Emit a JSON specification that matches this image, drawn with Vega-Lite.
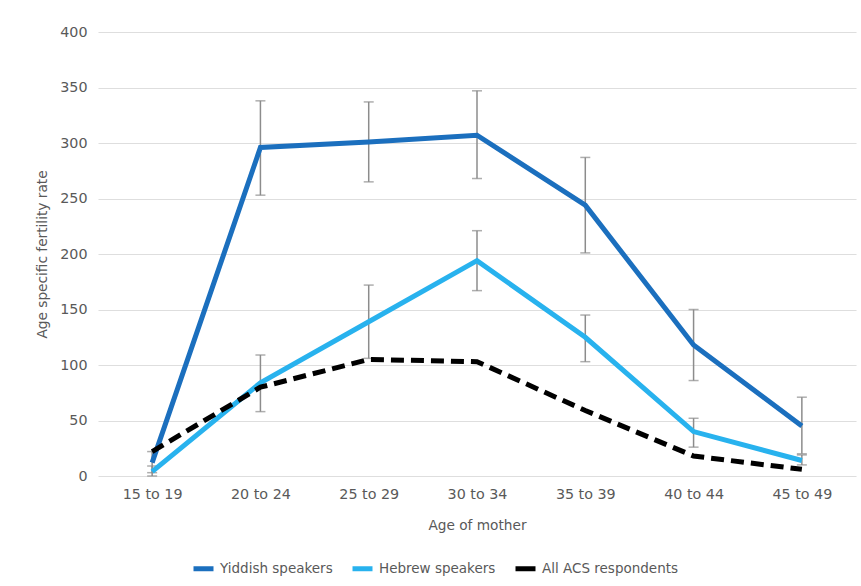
{
  "$schema": "https://vega.github.io/schema/vega-lite/v6.json",
  "width": 758,
  "height": 444,
  "autosize": {"type": "none"},
  "padding": {"left": 98, "top": 32, "right": 5, "bottom": 110},
  "background": "white",
  "config": {
    "view": {"stroke": null},
    "font": "DejaVu Sans",
    "axis": {"labelColor": "#595959", "titleColor": "#595959", "labelFontSize": 14.3, "titleFontSize": 13.7, "titleFontWeight": "normal", "domain": false, "ticks": false, "gridColor": "#dedede", "gridWidth": 1.2}
  },
  "data": {"values": [
    {"age": "15 to 19", "series": "Yiddish speakers", "rate": 12, "lo": 3, "hi": 22},
    {"age": "20 to 24", "series": "Yiddish speakers", "rate": 296, "lo": 253, "hi": 338},
    {"age": "25 to 29", "series": "Yiddish speakers", "rate": 301, "lo": 265, "hi": 337},
    {"age": "30 to 34", "series": "Yiddish speakers", "rate": 307, "lo": 268, "hi": 347},
    {"age": "35 to 39", "series": "Yiddish speakers", "rate": 244, "lo": 201, "hi": 287},
    {"age": "40 to 44", "series": "Yiddish speakers", "rate": 118, "lo": 86, "hi": 150},
    {"age": "45 to 49", "series": "Yiddish speakers", "rate": 45, "lo": 20, "hi": 71},
    {"age": "15 to 19", "series": "Hebrew speakers", "rate": 4, "lo": 0, "hi": 9},
    {"age": "20 to 24", "series": "Hebrew speakers", "rate": 84, "lo": 58, "hi": 109},
    {"age": "25 to 29", "series": "Hebrew speakers", "rate": 139, "lo": 106, "hi": 172},
    {"age": "30 to 34", "series": "Hebrew speakers", "rate": 194, "lo": 167, "hi": 221},
    {"age": "35 to 39", "series": "Hebrew speakers", "rate": 125, "lo": 103, "hi": 145},
    {"age": "40 to 44", "series": "Hebrew speakers", "rate": 40, "lo": 26, "hi": 52},
    {"age": "45 to 49", "series": "Hebrew speakers", "rate": 14, "lo": 10, "hi": 19},
    {"age": "15 to 19", "series": "All ACS respondents", "rate": 22, "lo": null, "hi": null},
    {"age": "20 to 24", "series": "All ACS respondents", "rate": 80, "lo": null, "hi": null},
    {"age": "25 to 29", "series": "All ACS respondents", "rate": 105, "lo": null, "hi": null},
    {"age": "30 to 34", "series": "All ACS respondents", "rate": 103, "lo": null, "hi": null},
    {"age": "35 to 39", "series": "All ACS respondents", "rate": 59, "lo": null, "hi": null},
    {"age": "40 to 44", "series": "All ACS respondents", "rate": 18, "lo": null, "hi": null},
    {"age": "45 to 49", "series": "All ACS respondents", "rate": 6, "lo": null, "hi": null}
  ]},
  "encoding": {
    "x": {"field": "age", "type": "nominal", "sort": null, "scale": {"type": "point", "padding": 0.5},
      "axis": {"title": "Age of mother", "labelAngle": 0, "labelPadding": 11, "titlePadding": 17, "grid": false}}
  },
  "layer": [
    {
      "transform": [{"filter": "datum.lo != null"}],
      "mark": {"type": "rule", "color": "#8c8c8c", "strokeWidth": 1.5},
      "encoding": {
        "y": {"field": "lo", "type": "quantitative", "scale": {"domain": [0, 400]},
          "axis": {"title": "Age specific fertility rate", "values": [0, 50, 100, 150, 200, 250, 300, 350, 400], "labelPadding": 11, "titlePadding": 10}},
        "y2": {"field": "hi"}
      }
    },
    {
      "transform": [{"filter": "datum.lo != null"}],
      "mark": {"type": "tick", "color": "#8c8c8c", "size": 10, "thickness": 1.5, "orient": "horizontal"},
      "encoding": {"y": {"field": "lo", "type": "quantitative", "scale": {"domain": [0, 400]},
          "axis": {"title": "Age specific fertility rate", "values": [0, 50, 100, 150, 200, 250, 300, 350, 400], "labelPadding": 11, "titlePadding": 10}}}
    },
    {
      "transform": [{"filter": "datum.lo != null"}],
      "mark": {"type": "tick", "color": "#8c8c8c", "size": 10, "thickness": 1.5, "orient": "horizontal"},
      "encoding": {"y": {"field": "hi", "type": "quantitative", "scale": {"domain": [0, 400]},
          "axis": {"title": "Age specific fertility rate", "values": [0, 50, 100, 150, 200, 250, 300, 350, 400], "labelPadding": 11, "titlePadding": 10}}}
    },
    {
      "transform": [{"filter": "datum.series != 'All ACS respondents'"}],
      "mark": {"type": "line", "strokeWidth": 5, "strokeJoin": "miter"},
      "encoding": {
        "y": {"field": "rate", "type": "quantitative", "scale": {"domain": [0, 400]},
          "axis": {"title": "Age specific fertility rate", "values": [0, 50, 100, 150, 200, 250, 300, 350, 400], "labelPadding": 11, "titlePadding": 10}},
        "color": {"field": "series", "type": "nominal",
          "scale": {"domain": ["Yiddish speakers", "Hebrew speakers", "All ACS respondents"], "range": ["#1b6fbe", "#28b2ee", "#000000"]},
          "legend": {"title": null, "orient": "none", "legendX": 93, "legendY": 524, "direction": "horizontal", "symbolType": "stroke", "symbolStrokeWidth": 5, "symbolSize": 400, "labelFontSize": 13.5, "labelColor": "#595959", "labelOffset": 4, "columnPadding": 9}}
      }
    },
    {
      "transform": [{"filter": "datum.series == 'All ACS respondents'"}],
      "mark": {"type": "line", "strokeWidth": 5, "strokeJoin": "miter", "strokeDash": [13, 7]},
      "encoding": {
        "y": {"field": "rate", "type": "quantitative", "scale": {"domain": [0, 400]},
          "axis": {"title": "Age specific fertility rate", "values": [0, 50, 100, 150, 200, 250, 300, 350, 400], "labelPadding": 11, "titlePadding": 10}},
        "color": {"field": "series", "type": "nominal",
          "scale": {"domain": ["Yiddish speakers", "Hebrew speakers", "All ACS respondents"], "range": ["#1b6fbe", "#28b2ee", "#000000"]},
          "legend": {"title": null, "orient": "none", "legendX": 93, "legendY": 524, "direction": "horizontal", "symbolType": "stroke", "symbolStrokeWidth": 5, "symbolSize": 400, "labelFontSize": 13.5, "labelColor": "#595959", "labelOffset": 4, "columnPadding": 9}}
      }
    }
  ]
}
